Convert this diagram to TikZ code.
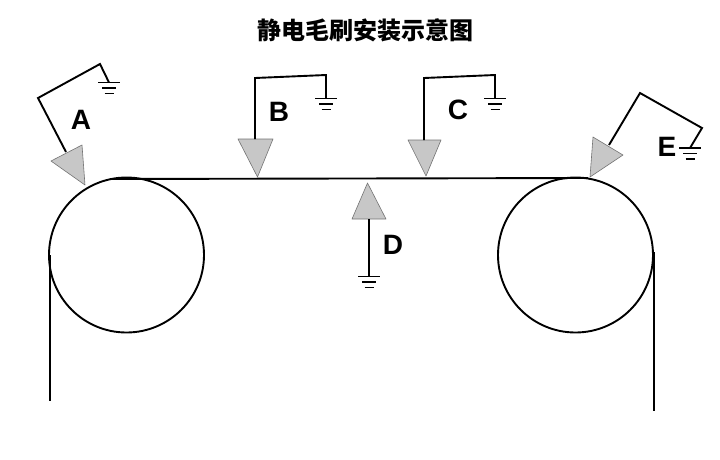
\documentclass[tikz,border=0pt]{standalone}
\usepackage{fontspec}
\setsansfont{Liberation Sans}
\newfontfamily\cjkbold{Noto Sans CJK SC Black}
\usepackage{tikz}

\begin{document}
\begin{tikzpicture}[x=1pt,y=-1pt,line width=1.9pt,every node/.style={font=\sffamily\bfseries\fontsize{28}{28}\selectfont,inner sep=0pt}]
	\useasboundingbox (0,0) rectangle (720,459);
	\tikzset{brush/.style={fill=black!22,draw=black!55,line width=0.6pt,line join=round}}
	% rollers and web
	\coordinate (rollL) at (126.5,255);
	\coordinate (rollR) at (575.5,255);
	\draw (rollL) circle (77.5pt);
	\draw (rollR) circle (77.5pt);
	\coordinate (webL) at (110,179);
	\coordinate (webR) at (588,178);
	\draw (webL) -- (webR);
	\coordinate (tailLa) at (50,255);
	\coordinate (tailLb) at (50,401);
	\coordinate (tailRa) at (654,252);
	\coordinate (tailRb) at (654,411);
	\draw (tailLa) -- (tailLb);
	\draw (tailRa) -- (tailRb);
	% brushes
	\foreach \n/\ax/\ay/\bx/\by/\cx/\cy in {A/51/161/82/145/85/185, B/238/139/273/139/257.5/177, C/408/140/441/140/426/176, D/352/219/386/219/367.5/183, E/593/137/623/155/590/177} {
		\coordinate (\n1) at (\ax,\ay);
		\coordinate (\n2) at (\bx,\by);
		\coordinate (\n3) at (\cx,\cy);
		\draw[brush] (\n1) -- (\n2) -- (\n3) -- cycle;
	}
	% wires
	\coordinate (wA) at (66,152);   \coordinate (wA1) at (38,98);  \coordinate (wA2) at (100,64);  \coordinate (gA) at (109,82.5);
	\coordinate (wB) at (255,139);  \coordinate (wB1) at (255,78); \coordinate (wB2) at (326,75);  \coordinate (gB) at (326,98.5);
	\coordinate (wC) at (424,140);  \coordinate (wC1) at (424,78); \coordinate (wC2) at (495,75);  \coordinate (gC) at (495,98.5);
	\coordinate (wD) at (369,219);  \coordinate (gD) at (369,276.5);
	\coordinate (wE) at (609,145);  \coordinate (wE1) at (640,93); \coordinate (wE2) at (702,128); \coordinate (gE) at (690,148);
	\draw (wA) -- (wA1) -- (wA2) -- (gA);
	\draw (wB) -- (wB1) -- (wB2) -- (gB);
	\draw (wC) -- (wC1) -- (wC2) -- (gC);
	\draw (wD) -- (gD);
	\draw (wE) -- (wE1) -- (wE2) -- (gE);
	% earth symbols
	\foreach \g in {gA,gB,gC,gD,gE} {
		\draw[shift={(\g)}] (-11,0) -- (11,0) (-7,5.5) -- (7,5.5) (-4.5,11) -- (4.5,11);
	}
	% labels
	\node (labA) at (81,120) {A};
	\node (labB) at (279,112) {B};
	\node (labC) at (458,110) {C};
	\node (labD) at (393,245) {D};
	\node (labE) at (667,147) {E};
	\node[font=\cjkbold\fontsize{24}{24}\selectfont] (title) at (365,30) {静电毛刷安装示意图};
\end{tikzpicture}
\end{document}
